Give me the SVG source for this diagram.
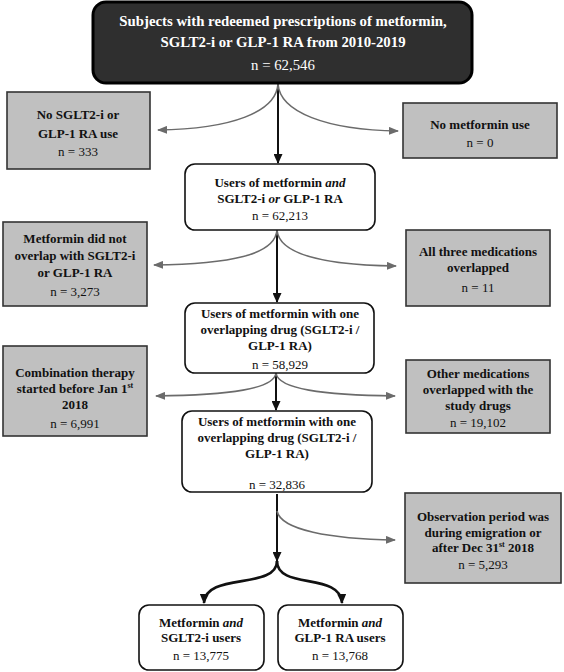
<svg xmlns="http://www.w3.org/2000/svg" width="564" height="672" viewBox="0 0 564 672">
<defs>
<style>
text{font-family:"Liberation Serif","Times New Roman",serif;font-size:13px;text-anchor:middle;fill:#111}
.b{font-weight:bold}
.top text{fill:#fff;font-size:14.8px}
.ex{fill:#c0c0c0;stroke:#333;stroke-width:1.6}
.wb{fill:#fff;stroke:#111;stroke-width:1.6}
.g{fill:none;stroke:#6b6b6b;stroke-width:1.6}
.k{fill:none;stroke:#111;stroke-width:2}
.kk{fill:none;stroke:#111;stroke-width:2.6}
.sup{font-size:8px}
</style>
<marker id="ag" markerWidth="10" markerHeight="8" refX="9" refY="4" orient="auto" markerUnits="userSpaceOnUse"><path d="M0,0 L10,4 L0,8 z" fill="#6b6b6b"/></marker>
<marker id="ak" markerWidth="10" markerHeight="9" refX="9" refY="4.5" orient="auto" markerUnits="userSpaceOnUse"><path d="M0,0 L10,4.5 L0,9 z" fill="#111"/></marker>
</defs>

<g id="connectors">
<path class="k" d="M278,84 L278,163" marker-end="url(#ak)"/>
<path class="g" d="M278,84 C276,112 232,129 158,130" marker-end="url(#ag)"/>
<path class="g" d="M278,84 C280,112 326,130 398,131" marker-end="url(#ag)"/>
<path class="k" d="M277,230 L277,302" marker-end="url(#ak)"/>
<path class="g" d="M277,230 C275,255 230,264 154,265" marker-end="url(#ag)"/>
<path class="g" d="M277,230 C279,255 324,265 396,266" marker-end="url(#ag)"/>
<path class="k" d="M276,373 L276,410" marker-end="url(#ak)"/>
<path class="g" d="M276,373 C274,389 230,395 156,396" marker-end="url(#ag)"/>
<path class="g" d="M276,373 C278,389 322,395 395,396" marker-end="url(#ag)"/>
<path class="k" d="M277,494 L277,561" marker-end="url(#ak)"/>
<path class="g" d="M277,511 C281,530 330,539 395,540" marker-end="url(#ag)"/>
<path class="kk" d="M277,561 C277,590 205,572 204,603" marker-end="url(#ak)"/>
<path class="kk" d="M277,561 C277,590 341,572 342,603" marker-end="url(#ak)"/>
</g>

<g id="n-top" class="top">
<rect x="93" y="2" width="379" height="81" rx="13" fill="#2f2f2f" stroke="#000" stroke-width="3"/>
<text x="283" y="26" class="b">Subjects with redeemed prescriptions of metformin,</text>
<text x="283" y="47" class="b">SGLT2-i or GLP-1 RA from 2010-2019</text>
<text x="283" y="70">n = 62,546</text>
</g>

<g id="n-ex1">
<rect class="ex" x="7" y="92" width="143" height="77"/>
<text x="78" y="119" class="b">No SGLT2-i or</text>
<text x="78" y="138" class="b">GLP-1 RA use</text>
<text x="78" y="156">n = 333</text>
</g>

<g id="n-ex2">
<rect class="ex" x="403" y="103" width="154" height="55"/>
<text x="480" y="129" class="b">No metformin use</text>
<text x="480" y="147">n = 0</text>
</g>

<g id="n-c1">
<rect class="wb" x="185" y="164" width="190" height="66" rx="10"/>
<text x="280" y="187" class="b">Users of metformin <tspan font-style="italic">and</tspan></text>
<text x="280" y="203" class="b">SGLT2-i <tspan font-style="italic">or</tspan> GLP-1 RA</text>
<text x="280" y="220">n = 62,213</text>
</g>

<g id="n-ex3">
<rect class="ex" x="3" y="222" width="144" height="84"/>
<text x="75" y="243" class="b">Metformin did not</text>
<text x="75" y="260" class="b">overlap with SGLT2-i</text>
<text x="75" y="277" class="b">or GLP-1 RA</text>
<text x="75" y="296">n = 3,273</text>
</g>

<g id="n-ex4">
<rect class="ex" x="406" y="230" width="144" height="76"/>
<text x="478" y="256" class="b">All three medications</text>
<text x="478" y="272" class="b">overlapped</text>
<text x="478" y="292">n = 11</text>
</g>

<g id="n-c2">
<rect class="wb" x="185" y="303" width="189" height="70" rx="10"/>
<text x="280" y="318" class="b">Users of metformin with one</text>
<text x="280" y="334" class="b">overlapping drug (SGLT2-i /</text>
<text x="280" y="350" class="b">GLP-1 RA)</text>
<text x="280" y="369">n = 58,929</text>
</g>

<g id="n-ex5">
<rect class="ex" x="3" y="346" width="144" height="90"/>
<text x="75" y="377" class="b">Combination therapy</text>
<text x="75" y="393" class="b">started before Jan 1<tspan class="sup" dy="-5">st</tspan></text>
<text x="75" y="409" class="b">2018</text>
<text x="75" y="428">n = 6,991</text>
</g>

<g id="n-ex6">
<rect class="ex" x="406" y="360" width="144" height="73"/>
<text x="478" y="378" class="b">Other medications</text>
<text x="478" y="394" class="b">overlapped with the</text>
<text x="478" y="410" class="b">study drugs</text>
<text x="478" y="427">n = 19,102</text>
</g>

<g id="n-c3">
<rect class="wb" x="182" y="411" width="190" height="81" rx="10"/>
<text x="277" y="426" class="b">Users of metformin with one</text>
<text x="277" y="442" class="b">overlapping drug (SGLT2-i /</text>
<text x="277" y="458" class="b">GLP-1 RA)</text>
<text x="277" y="489">n = 32,836</text>
</g>

<g id="n-ex7">
<rect class="ex" x="405" y="493" width="156" height="90"/>
<text x="483" y="521" class="b">Observation period was</text>
<text x="483" y="537" class="b">during emigration or</text>
<text x="483" y="552" class="b">after Dec 31<tspan class="sup" dy="-5">st</tspan><tspan dy="5"> 2018</tspan></text>
<text x="483" y="569">n = 5,293</text>
</g>

<g id="n-b1">
<rect class="wb" x="139" y="605" width="125" height="65" rx="10"/>
<text x="201" y="627" class="b">Metformin <tspan font-style="italic">and</tspan></text>
<text x="201" y="642" class="b">SGLT2-i users</text>
<text x="201" y="660">n = 13,775</text>
</g>

<g id="n-b2">
<rect class="wb" x="278" y="605" width="125" height="65" rx="10"/>
<text x="340" y="627" class="b">Metformin <tspan font-style="italic">and</tspan></text>
<text x="340" y="642" class="b">GLP-1 RA users</text>
<text x="340" y="660">n = 13,768</text>
</g>
</svg>
